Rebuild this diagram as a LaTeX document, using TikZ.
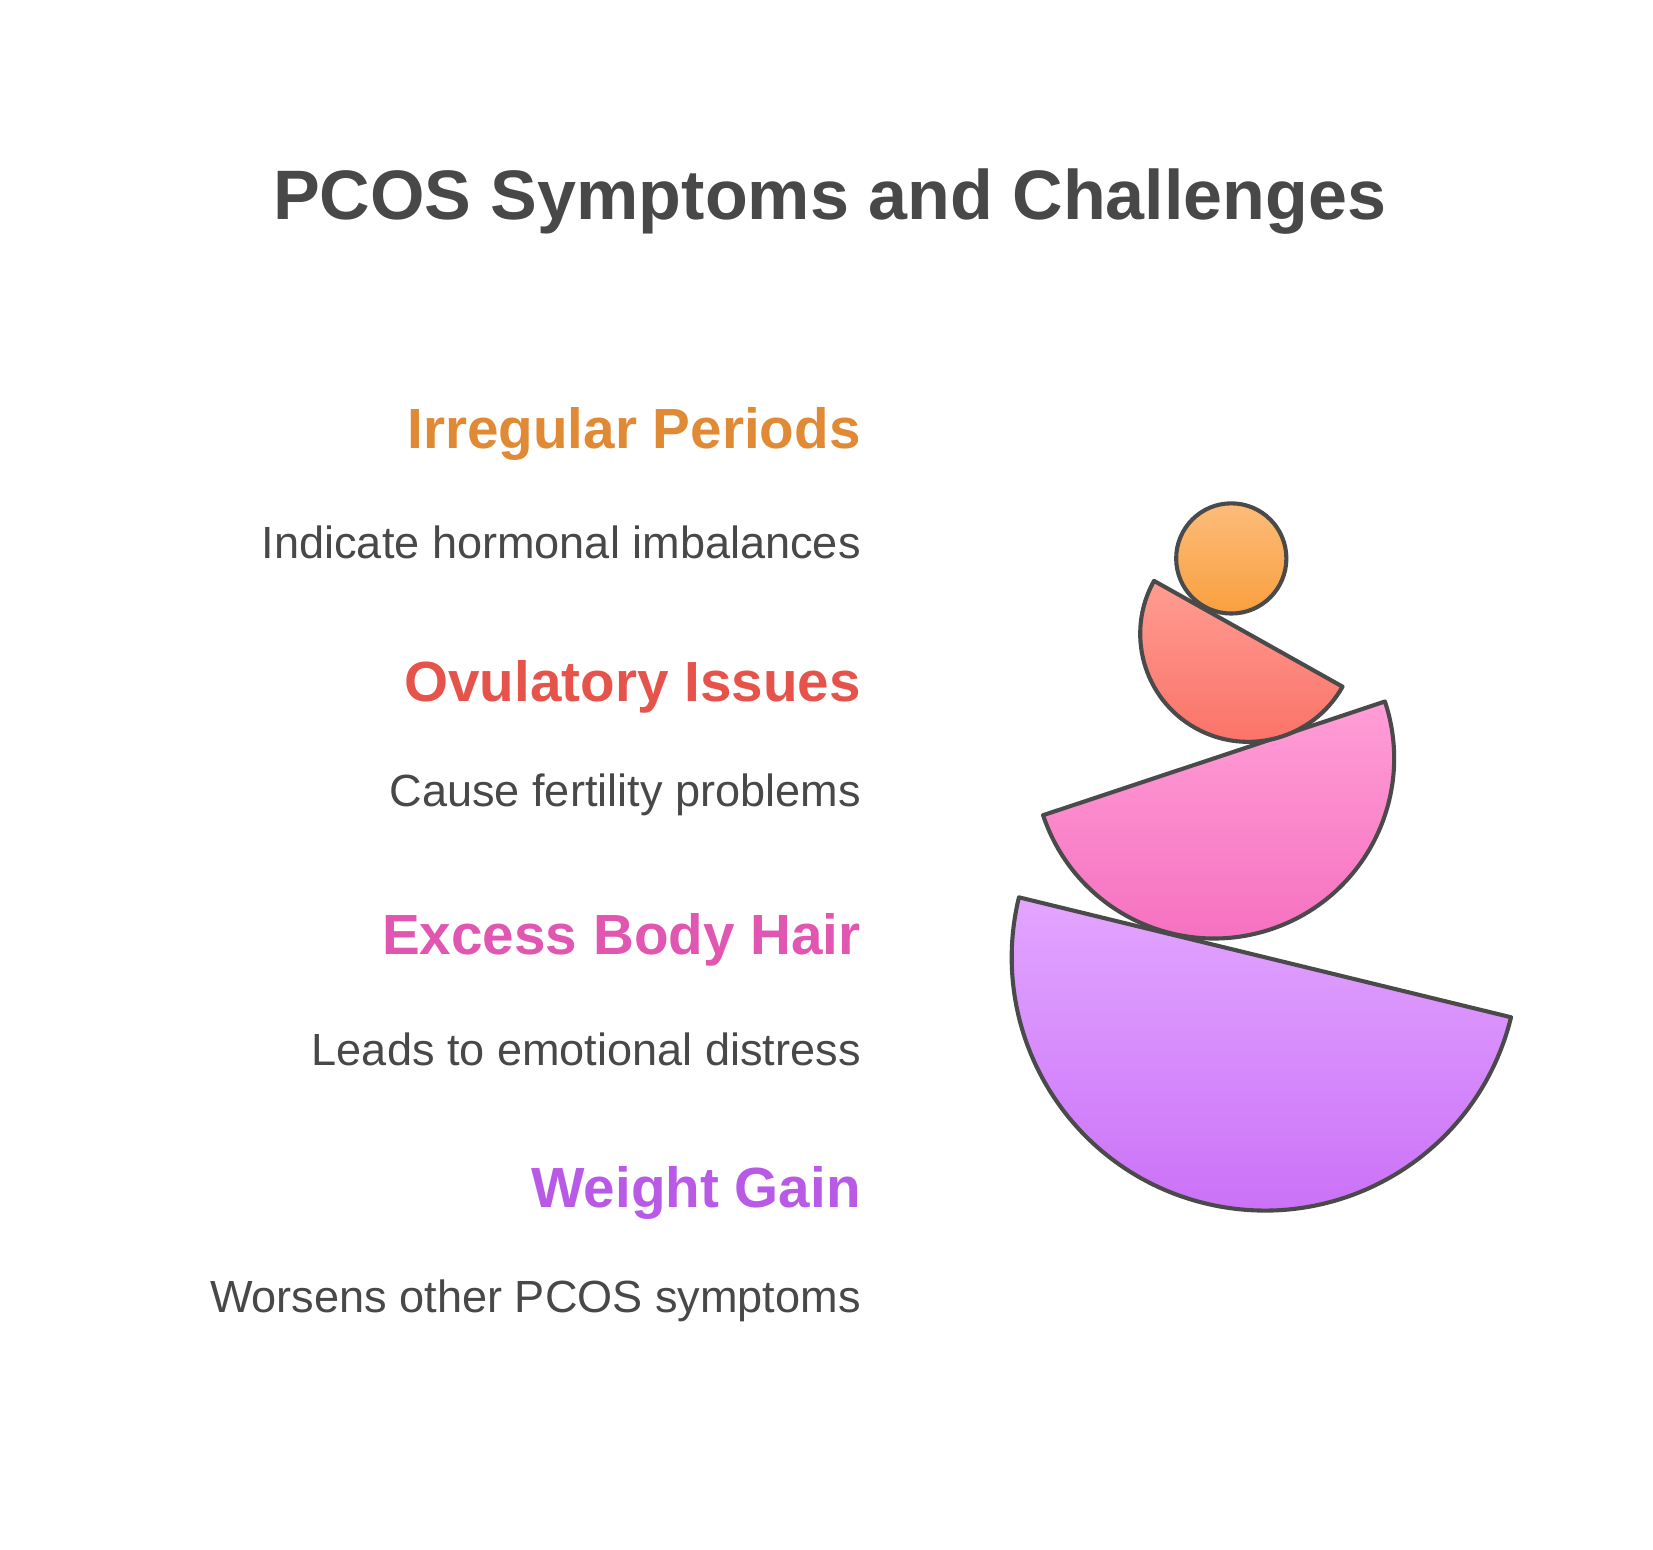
\documentclass[tikz,border=0pt]{standalone}
\usepackage{fontspec}
\setmainfont{Liberation Sans}
\definecolor{inkgray}{HTML}{484848}
\definecolor{edgegray}{HTML}{4A4A4A}
\definecolor{hdorange}{HTML}{E08A35}
\definecolor{hdred}{HTML}{E5534B}
\definecolor{hdpink}{HTML}{E056B0}
\definecolor{hdpurple}{HTML}{B85AE6}
\tikzset{
  heading/.style={anchor=east, inner sep=0pt, font=\fontsize{15.2}{18}\selectfont\bfseries},
  blurb/.style={anchor=east, inner sep=0pt, text=inkgray, font=\fontsize{12.1}{14}\selectfont},
  piece/.style={draw=edgegray, line width=1.1pt, line join=round},
}
\begin{document}
\begin{tikzpicture}[x=0.01cm, y=-0.01cm]
  \useasboundingbox (0,0) rectangle (1560,1462);

  \node[text=inkgray, font=\fontsize{18.8}{22}\selectfont\bfseries] (title) at (783,190) {PCOS Symptoms and Challenges};

  % labels
  \node[heading, text=hdorange] (irr) at (813,410) {Irregular Periods};
  \node[blurb] (irrtxt) at (813,512) {Indicate hormonal imbalances};
  \node[heading, text=hdred] (ovu) at (813,648) {Ovulatory Issues};
  \node[blurb] (ovutxt) at (813,750) {Cause fertility problems};
  \node[heading, text=hdpink] (hair) at (813,887) {Excess Body Hair};
  \node[blurb] (hairtxt) at (813,990) {Leads to emotional distress};
  \node[heading, text=hdpurple] (wgt) at (813,1126) {Weight Gain};
  \node[blurb] (wgttxt) at (813,1228) {Worsens other PCOS symptoms};

  % stacked pieces
  \draw[piece, top color={rgb,255:red,226;green,166;blue,255}, bottom color={rgb,255:red,201;green,109;blue,247}]
    (1426,960) arc[start angle=13.7, end angle=193.7, radius=239] -- cycle;
  \draw[piece, top color={rgb,255:red,255;green,158;blue,214}, bottom color={rgb,255:red,245;green,109;blue,190}]
    (1307,662) arc[start angle=-18.4, end angle=161.6, radius=170] -- cycle;
  \draw[piece, top color={rgb,255:red,255;green,156;blue,146}, bottom color={rgb,255:red,250;green,111;blue,100}]
    (1267,648) arc[start angle=29.3, end angle=209.3, radius=102] -- cycle;
  \draw[piece, top color={rgb,255:red,253;green,187;blue,122}, bottom color={rgb,255:red,249;green,160;blue,63}]
    (1162,527) circle[radius=52];

\end{tikzpicture}
\end{document}
